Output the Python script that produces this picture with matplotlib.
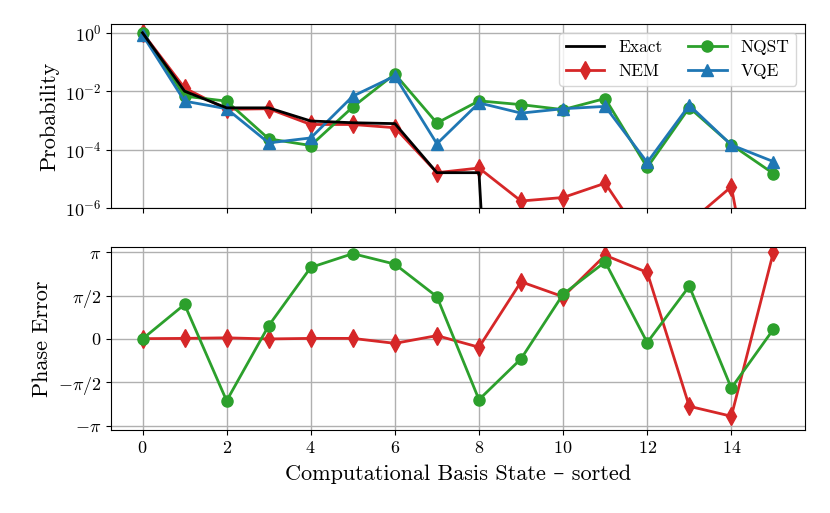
import numpy as np
import matplotlib
matplotlib.use("Agg")
import matplotlib.pyplot as plt

plt.rcParams['font.family'] = ['cmr10', 'DejaVu Serif']
plt.rcParams['mathtext.fontset'] = 'cm'
plt.rcParams['axes.formatter.use_mathtext'] = True
plt.rcParams['axes.unicode_minus'] = True

states = np.arange(16)

# probabilities, as log10 values
exact_log = [0.0, -2.0, -2.57, -2.57, -3.02, -3.08, -3.11, -4.79, -4.79,
             -30, -30, -30, -30, -30, -30, -30]
nem_log = [0.0, -1.89, -2.62, -2.6, -3.14, -3.14, -3.25, -4.79, -4.63,
           -5.76, -5.64, -5.15, -7.3, -6.5, -5.27, -12.9]
nqst_log = [-0.02, -2.17, -2.34, -3.63, -3.86, -2.54, -1.41, -3.09, -2.33,
            -2.46, -2.63, -2.25, -4.61, -2.56, -3.83, -4.82]
vqe_log = [-0.07, -2.34, -2.6, -3.77, -3.6, -2.17, -1.48, -3.8, -2.4,
           -2.75, -2.6, -2.52, -4.44, -2.48, -3.84, -4.41]

# phase errors (radians)
nem_phase = [0.01, 0.02, 0.04, 0.0, 0.02, 0.02, -0.16, 0.12, -0.30,
             2.07, 1.53, 3.03, 2.41, -2.44, -2.80, 3.14]
nqst_phase = [0.0, 1.25, -2.24, 0.48, 2.59, 3.09, 2.71, 1.53, -2.20,
              -0.72, 1.62, 2.79, -0.13, 1.91, -1.78, 0.35]

exact = 10.0 ** np.array(exact_log)
nem = 10.0 ** np.array(nem_log)
nqst = 10.0 ** np.array(nqst_log)
vqe = 10.0 ** np.array(vqe_log)

fig = plt.figure(figsize=(8.3, 5.13), dpi=100)
ax1 = fig.add_axes([0.1337, 0.5945, 0.8361, 0.3587])
ax2 = fig.add_axes([0.1337, 0.1618, 0.8361, 0.3567], sharex=ax1)

lw = 2.0
ms = 9
ax1.plot(states, exact, c='k', lw=lw, label='Exact', zorder=5)
ax1.plot(states, nem, c='tab:red', lw=lw, marker='d', ms=ms, label='NEM')
ax1.plot(states, nqst, c='tab:green', lw=lw, marker='o', ms=8, label='NQST')
ax1.plot(states, vqe, c='tab:blue', lw=lw, marker='^', ms=ms, label='VQE')
ax1.set_yscale('log')
ax1.set_ylim(1e-6, 2.0)
ax1.set_yticks([1e0, 1e-2, 1e-4, 1e-6])
ax1.minorticks_off()
ax1.grid(True, color='#b0b0b0', lw=1)
ax1.set_ylabel('Probability', fontsize=16)
ax1.tick_params(labelsize=13, labelbottom=False)
ax1.legend(loc='upper right', ncol=2, fontsize=12.5, framealpha=0.8,
           columnspacing=1.5, handlelength=2.2)

ax2.plot(states, nem_phase, c='tab:red', lw=lw, marker='d', ms=ms)
ax2.plot(states, nqst_phase, c='tab:green', lw=lw, marker='o', ms=8)
ax2.set_ylim(-1.05 * np.pi, 1.06 * np.pi)
ax2.set_yticks([np.pi, np.pi / 2, 0, -np.pi / 2, -np.pi])
ax2.set_yticklabels([r'$\pi$', r'$\pi/2$', r'$0$', r'$-\pi/2$', r'$-\pi$'])
ax2.set_xticks([0, 2, 4, 6, 8, 10, 12, 14])
ax2.grid(True, color='#b0b0b0', lw=1)
ax2.set_ylabel('Phase Error', fontsize=16)
ax2.set_xlabel('Computational Basis State – sorted', fontsize=16, labelpad=6)
ax2.tick_params(labelsize=13)

fig.savefig('out.png', dpi=100)
